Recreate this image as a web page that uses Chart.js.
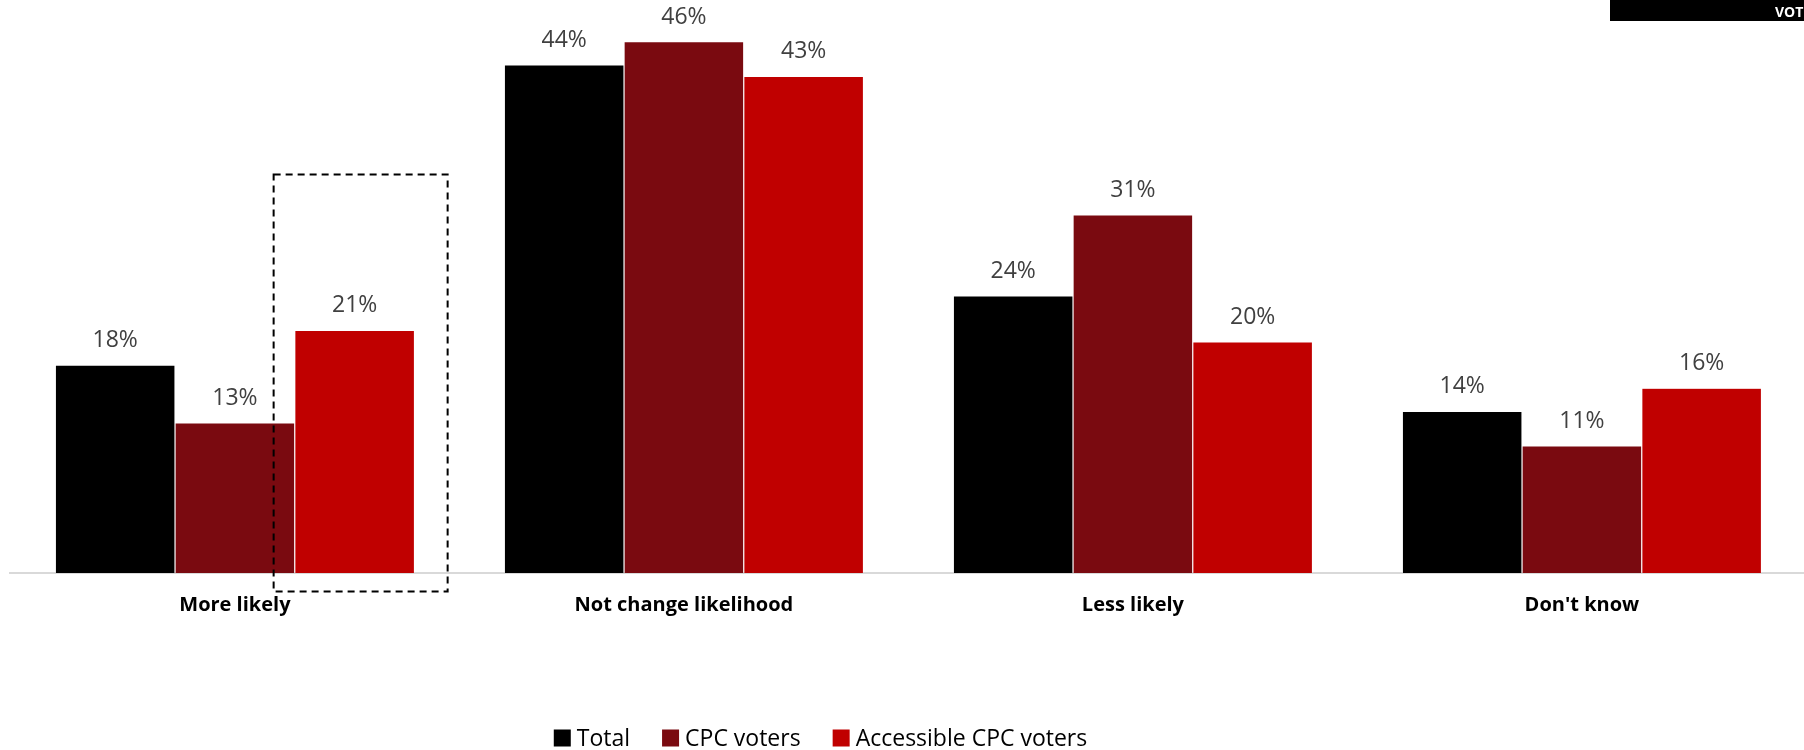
<!DOCTYPE html>
<html><head><meta charset="utf-8">
<script src="https://cdn.jsdelivr.net/npm/chart.js@4"></script>
<style>
html,body{margin:0;padding:0;background:#fff;overflow:hidden;width:1804px;height:750px;}
#wrap{position:relative;width:1807px;height:750px;}
</style></head><body>
<div id="wrap"><canvas id="c"></canvas></div>
<script>
const categories = ['More likely', 'Not change likelihood', 'Less likely', "Don't know"];
const seriesNames = ['Total', 'CPC voters', 'Accessible CPC voters'];
const totalValues = [18, 44, 24, 14];
const cpcValues = [13, 46, 31, 11];
const accessibleValues = [21, 43, 20, 16];
const seriesColors = ['#000000', '#7A0A10', '#C00000'];
const yMax = 48;
const cornerLabel = 'VOTE';
const highlight = { category: 0, dataset: 2, topValue: 34.5 };

const FONT = "'Open Sans', 'Noto Sans', sans-serif";

const labelsPlugin = {
  id: 'labels',
  afterDatasetsDraw(chart) {
    const ctx = chart.ctx;
    ctx.save();
    ctx.font = '23px ' + FONT;
    ctx.fillStyle = '#404040';
    ctx.textAlign = 'center';
    ctx.textBaseline = 'alphabetic';
    chart.data.datasets.forEach((ds, i) => {
      chart.getDatasetMeta(i).data.forEach((bar, j) => {
        ctx.fillText(ds.data[j] + '%', bar.x, bar.y - 18);
      });
    });
    // highlight dashed box
    const bar = chart.getDatasetMeta(highlight.dataset).data[highlight.category];
    const y = chart.scales.y;
    const top = y.getPixelForValue(highlight.topValue);
    const bottom = y.getPixelForValue(0) + 18.5;
    ctx.setLineDash([7, 5]);
    ctx.lineWidth = 2;
    ctx.strokeStyle = '#000';
    ctx.strokeRect(bar.x - 81, top, 174, bottom - top);
    ctx.setLineDash([]);
    // legend
    ctx.font = '23px ' + FONT;
    ctx.fillStyle = '#000';
    const box = 17, gap = 6, itemGap = 32;
    const widths = seriesNames.map(n => ctx.measureText(n).width);
    let total = 0;
    widths.forEach((w, k) => { total += box + gap + w + (k < widths.length - 1 ? itemGap : 0); });
    let x = 820.5 - total / 2;
    ctx.textAlign = 'left';
    seriesNames.forEach((n, k) => {
      ctx.fillStyle = chart.data.datasets[k].backgroundColor;
      ctx.fillRect(x, 729.5, box, box);
      x += box + gap;
      ctx.fillStyle = '#000';
      ctx.fillText(n, x, 746);
      x += widths[k] + itemGap;
    });
    // corner box
    ctx.fillStyle = '#000';
    ctx.fillRect(1610, 0, 194, 21);
    ctx.fillStyle = '#fff';
    ctx.font = 'bold 14px ' + FONT;
    ctx.fillText(cornerLabel, 1775, 17);
    ctx.restore();
  }
};

new Chart(document.getElementById('c'), {
  type: 'bar',
  data: {
    labels: categories,
    datasets: [
      { label: seriesNames[0], data: totalValues, backgroundColor: seriesColors[0] },
      { label: seriesNames[1], data: cpcValues, backgroundColor: seriesColors[1] },
      { label: seriesNames[2], data: accessibleValues, backgroundColor: seriesColors[2] }
    ].map(d => Object.assign(d, { borderWidth: 0.6, borderColor: 'rgba(255,255,255,0.5)', barPercentage: 1, categoryPercentage: 0.8 }))
  },
  options: {
    responsive: true,
    maintainAspectRatio: false,
    animation: false,
    layout: { padding: { top: 18.6, left: 10.4, right: 0.6, bottom: 0 } },
    plugins: { legend: { display: false }, tooltip: { enabled: false } },
    scales: {
      x: {
        grid: { display: false, drawTicks: false },
        border: { display: true, color: '#d9d9d9', width: 2 },
        ticks: { padding: 20, color: '#000', font: { family: FONT, size: 20, weight: 'bold' } },
        afterFit(scale) { scale.height = 177; }
      },
      y: { display: false, min: 0, max: yMax }
    }
  },
  plugins: [labelsPlugin]
});
</script>
</body></html>
